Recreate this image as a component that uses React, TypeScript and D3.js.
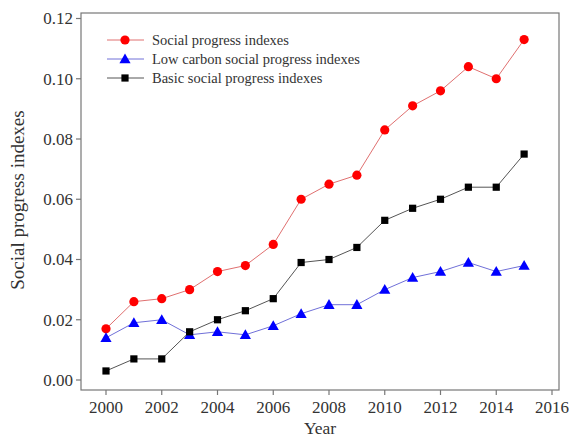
import React from "react";
import * as d3 from "d3";

const years = [2000, 2001, 2002, 2003, 2004, 2005, 2006, 2007, 2008, 2009, 2010, 2011, 2012, 2013, 2014, 2015];
const socialProgress = [0.017, 0.026, 0.027, 0.030, 0.036, 0.038, 0.045, 0.060, 0.065, 0.068, 0.083, 0.091, 0.096, 0.104, 0.100, 0.113];
const lowCarbon = [0.014, 0.019, 0.020, 0.015, 0.016, 0.015, 0.018, 0.022, 0.025, 0.025, 0.030, 0.034, 0.036, 0.039, 0.036, 0.038];
const basicSocial = [0.003, 0.007, 0.007, 0.016, 0.020, 0.023, 0.027, 0.039, 0.040, 0.044, 0.053, 0.057, 0.060, 0.064, 0.064, 0.075];
const xTicks = [2000, 2002, 2004, 2006, 2008, 2010, 2012, 2014, 2016];
const yTicks = [0, 0.02, 0.04, 0.06, 0.08, 0.1, 0.12];
const seriesNames = ["Social progress indexes", "Low carbon social progress indexes", "Basic social progress indexes"];

const W = 569;
const H = 438;
const frame = { left: 81, right: 559, top: 13, bottom: 390 };
const font = "'Liberation Serif', 'Times New Roman', serif";
const textColor = "#333";

type Shape = "circle" | "triangle" | "square";
const series: { name: string; values: number[]; line: string; fill: string; shape: Shape }[] = [
  { name: seriesNames[0], values: socialProgress, line: "#e07070", fill: "#ff0000", shape: "circle" },
  { name: seriesNames[1], values: lowCarbon, line: "#7070d8", fill: "#0000ff", shape: "triangle" },
  { name: seriesNames[2], values: basicSocial, line: "#555555", fill: "#000000", shape: "square" },
];

function Marker({ x, y, shape, fill }: { x: number; y: number; shape: Shape; fill: string }) {
  if (shape === "circle") return <circle cx={x} cy={y} r={4.6} fill={fill} />;
  if (shape === "square") return <rect x={x - 3.6} y={y - 3.6} width={7.2} height={7.2} fill={fill} />;
  const s = 5.6;
  return <path d={`M${x},${y - s}L${x + s},${y + s * 0.75}L${x - s},${y + s * 0.75}Z`} fill={fill} />;
}

export default function App() {
  const x = d3.scaleLinear().domain([2000, 2016]).range([106, 552]);
  const y = d3.scaleLinear().domain([0, 0.12]).range([380, 18.5]);

  const legendRows = [40, 59, 78];

  return (
    <svg width={W} height={H} style={{ position: "absolute", left: 0, top: 0, background: "#fff" }}>
      <rect x={0} y={0} width={W} height={H} fill="#fff" />
      {/* plot frame */}
      <rect
        x={frame.left}
        y={frame.top}
        width={frame.right - frame.left}
        height={frame.bottom - frame.top}
        fill="none"
        stroke="#777"
        strokeWidth={1.2}
      />
      {/* y axis */}
      {yTicks.map((t) => (
        <g key={t}>
          <line x1={frame.left - 5} x2={frame.left} y1={y(t)} y2={y(t)} stroke="#777" strokeWidth={1.2} />
          <text
            x={frame.left - 8}
            y={y(t)}
            dy="0.35em"
            textAnchor="end"
            fontFamily={font}
            fontSize={17}
            fill={textColor}
          >
            {d3.format(".2f")(t)}
          </text>
        </g>
      ))}
      {/* x axis */}
      {xTicks.map((t) => (
        <g key={t}>
          <line x1={x(t)} x2={x(t)} y1={frame.bottom} y2={frame.bottom + 5} stroke="#777" strokeWidth={1.2} />
          <text x={x(t)} y={frame.bottom + 23} textAnchor="middle" fontFamily={font} fontSize={17} fill={textColor}>
            {t}
          </text>
        </g>
      ))}
      <text x={320} y={434} textAnchor="middle" fontFamily={font} fontSize={17.5} fill={textColor}>
        Year
      </text>
      <text
        transform={`translate(24,200) rotate(-90)`}
        textAnchor="middle"
        fontFamily={font}
        fontSize={19}
        fill={textColor}
      >
        Social progress indexes
      </text>
      {/* series */}
      {series.map((s) => {
        const line = d3
          .line<number>()
          .x((_, i) => x(years[i]))
          .y((v) => y(v));
        return (
          <g key={s.name}>
            <path d={line(s.values) || ""} fill="none" stroke={s.line} strokeWidth={1} />
            {s.values.map((v, i) => (
              <Marker key={i} x={x(years[i])} y={y(v)} shape={s.shape} fill={s.fill} />
            ))}
          </g>
        );
      })}
      {/* legend */}
      {series.map((s, i) => (
        <g key={s.name}>
          <line x1={107} x2={144} y1={legendRows[i]} y2={legendRows[i]} stroke={s.line} strokeWidth={1} />
          <Marker
            x={125}
            y={legendRows[i]}
            shape={s.shape}
            fill={s.fill}
          />
          <text x={152} y={legendRows[i]} dy="0.35em" fontFamily={font} fontSize={14.5} fill={textColor}>
            {s.name}
          </text>
        </g>
      ))}
    </svg>
  );
}
